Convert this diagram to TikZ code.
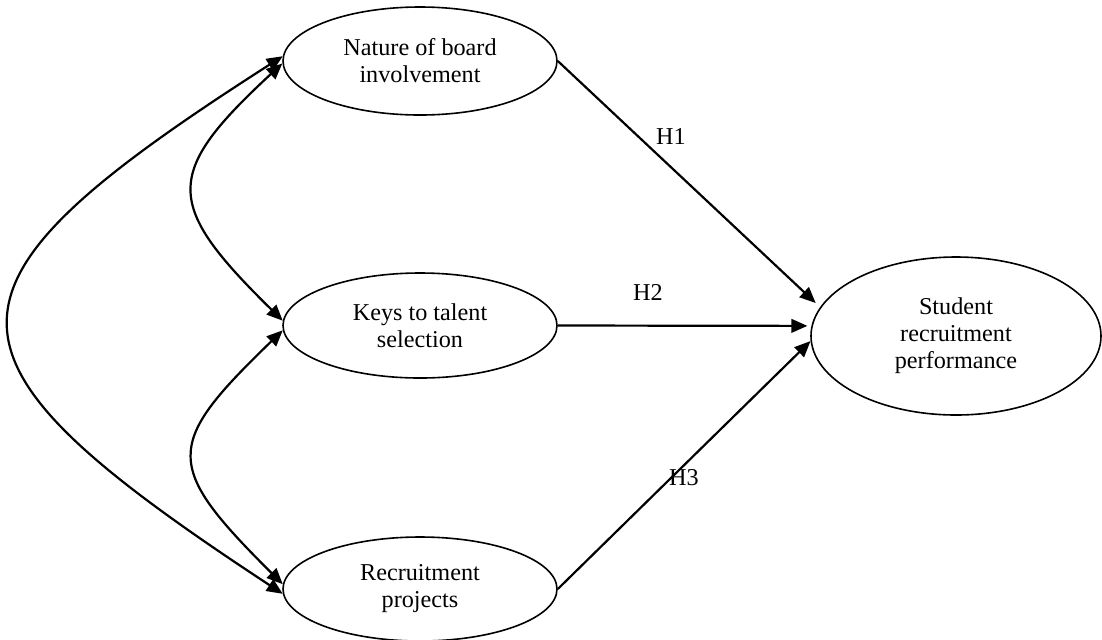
\documentclass[tikz,border=0pt]{standalone}
\usepackage{fontspec}
\setmainfont{Liberation Serif}
\usetikzlibrary{arrows.meta,shapes.geometric}

\begin{document}
\begin{tikzpicture}[x=0.5pt, y=-0.5pt,
    construct/.style={draw, ellipse, line width=0.8pt, inner sep=0pt, align=center,
        font=\fontsize{12.1}{13.5}\selectfont},
    path arrow/.style={line width=1.1pt, -{Triangle[length=8pt,width=6.8pt]}},
    cov arrow/.style={line width=1.1pt, {Triangle[length=8pt,width=6.8pt]}-{Triangle[length=8pt,width=6.8pt]}},
    hyp/.style={font=\fontsize{12.1}{13.5}\selectfont}]

\useasboundingbox (0,0) rectangle (1102,639);

% Constructs
\node[construct, minimum width=137pt, minimum height=54pt] (nature) at (420,61) {Nature of board\\involvement};
\node[construct, minimum width=137pt, minimum height=52.5pt] (keys) at (420,325.5) {Keys to talent\\selection};
\node[construct, minimum width=137pt, minimum height=52pt] (projects) at (420,589) {Recruitment\\projects};
\node[construct, minimum width=145pt, minimum height=79pt] (perf) at (956,336) {Student\\recruitment\\performance};

% Hypothesised paths
\draw[path arrow, shorten >=3pt] (nature.east) -- (perf.168);
\draw[path arrow, shorten >=2pt] (keys.east) -- (perf.176);
\draw[path arrow] (projects.east) -- (perf.182);

\node[hyp] (hone) at (671,137) {H1};
\node[hyp] (htwo) at (648,292) {H2};
\node[hyp] (hthree) at (684,478) {H3};

% Correlations between the predictors
\draw[cov arrow] (nature.178) .. controls (-81,289) and (-81,355) .. (projects.182);
\draw[cov arrow] (nature.181) .. controls (163,174) and (164,204) .. (keys.178);
\draw[cov arrow] (keys.182) .. controls (164,445) and (163,465) .. (projects.178);

\end{tikzpicture}
\end{document}
